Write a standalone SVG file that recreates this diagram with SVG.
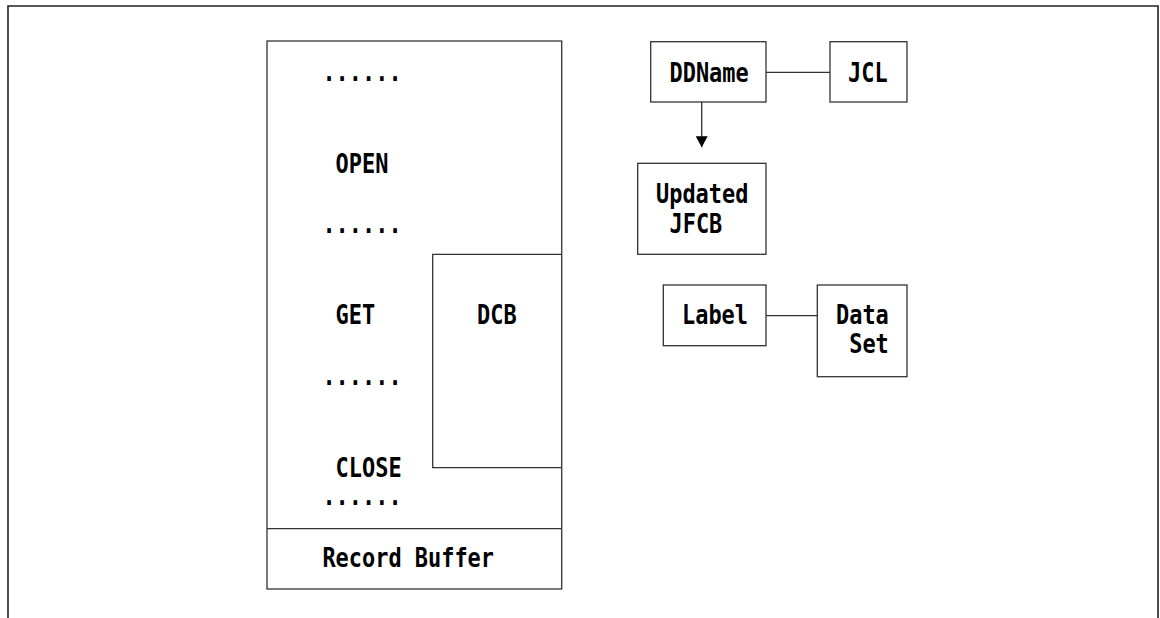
<svg xmlns="http://www.w3.org/2000/svg" width="1160" height="618" viewBox="0 0 1160 618">
<defs>
<style>
.frame{fill:none;stroke:#222;stroke-width:1.6}
.box{fill:none;stroke:#333;stroke-width:1.3}
.conn{fill:none;stroke:#333;stroke-width:1.3}
.t{font-family:"DejaVu Sans Mono","Liberation Mono",monospace;font-weight:bold;font-size:26px;fill:#000}
</style>
<marker id="arr" viewBox="0 0 11 12" refX="11" refY="6" markerWidth="11" markerHeight="12" markerUnits="userSpaceOnUse" orient="auto">
<path d="M0,0 L11,6 L0,12 Z" fill="#000"/>
</marker>
</defs>
<rect width="1160" height="618" fill="#fff"/>
<path class="frame" d="M8,618 L8,6 L1158,6 L1158,618"/>

<g id="program">
<rect class="box" x="267" y="41" width="294.7" height="548"/>
<line class="box" x1="267" y1="528.7" x2="561.7" y2="528.7"/>
<text class="t" x="322.4" y="81" textLength="79.2" lengthAdjust="spacingAndGlyphs">......</text>
<text class="t" x="335.6" y="172.7" textLength="52.8" lengthAdjust="spacingAndGlyphs">OPEN</text>
<text class="t" x="322.4" y="232.7" textLength="79.2" lengthAdjust="spacingAndGlyphs">......</text>
<text class="t" x="335.6" y="324" textLength="39.6" lengthAdjust="spacingAndGlyphs">GET</text>
<text class="t" x="322.4" y="384.7" textLength="79.2" lengthAdjust="spacingAndGlyphs">......</text>
<text class="t" x="335.6" y="476.7" textLength="66" lengthAdjust="spacingAndGlyphs">CLOSE</text>
<text class="t" x="322.4" y="505.3" textLength="79.2" lengthAdjust="spacingAndGlyphs">......</text>
<text class="t" x="322.4" y="567.3" textLength="171.6" lengthAdjust="spacingAndGlyphs">Record Buffer</text>
</g>

<g id="dcb">
<path class="box" d="M561.7,254.3 L432.7,254.3 L432.7,467.7 L561.7,467.7"/>
<text class="t" x="477" y="324" textLength="39.6" lengthAdjust="spacingAndGlyphs">DCB</text>
</g>

<g id="ddname">
<rect class="box" x="650.7" y="41.7" width="115.3" height="60.3"/>
<text class="t" x="669.5" y="81.7" textLength="79.2" lengthAdjust="spacingAndGlyphs">DDName</text>
</g>

<g id="jcl">
<rect class="box" x="830" y="41.7" width="77" height="60.3"/>
<text class="t" x="848" y="81.7" textLength="39.6" lengthAdjust="spacingAndGlyphs">JCL</text>
</g>

<g id="jfcb">
<rect class="box" x="637.7" y="163.3" width="128.3" height="91"/>
<text class="t" x="656" y="203" textLength="92.4" lengthAdjust="spacingAndGlyphs">Updated</text>
<text class="t" x="669.5" y="232.7" textLength="52.8" lengthAdjust="spacingAndGlyphs">JFCB</text>
</g>

<g id="label">
<rect class="box" x="663.3" y="285" width="102.7" height="60.7"/>
<text class="t" x="682" y="324" textLength="66" lengthAdjust="spacingAndGlyphs">Label</text>
</g>

<g id="dataset">
<rect class="box" x="817.3" y="285" width="89.7" height="91.7"/>
<text class="t" x="836" y="324" textLength="52.8" lengthAdjust="spacingAndGlyphs">Data</text>
<text class="t" x="849.2" y="353.3" textLength="39.6" lengthAdjust="spacingAndGlyphs">Set</text>
</g>

<g id="connectors">
<line class="conn" x1="766" y1="72.3" x2="830" y2="72.3"/>
<line class="conn" x1="701.7" y1="102" x2="701.7" y2="147.3" marker-end="url(#arr)"/>
<line class="conn" x1="766" y1="315.7" x2="817.3" y2="315.7"/>
</g>
</svg>
